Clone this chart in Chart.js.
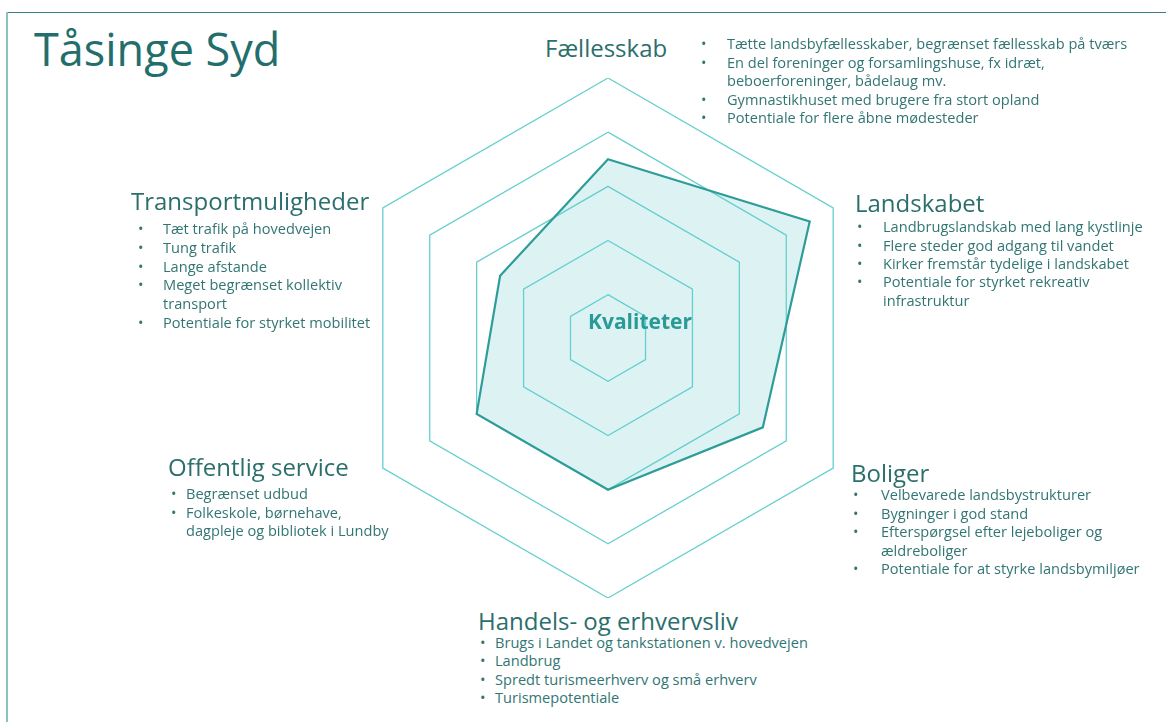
<!DOCTYPE html>
<html>
<head>
<meta charset="utf-8">
<script src="https://cdn.jsdelivr.net/npm/chart.js@4/dist/chart.umd.min.js"></script>
<style>
  html, body { margin: 0; padding: 0; background: #fff; }
  body { width: 1166px; height: 722px; position: relative; overflow: hidden; font-family: "Open Sans", "Noto Sans", sans-serif; color: #2f7371; }
  .frame-top { position: absolute; left: 7px; top: 12px; width: 1159px; height: 1px; background: #3b807e; }
  .frame-left { position: absolute; left: 6px; top: 12px; width: 2px; height: 710px; background: #86c3c1; }
  #title { position: absolute; left: 34px; top: 26px; font-size: 45px; line-height: 1; color: #236e6c; }
  #chartBox { position: absolute; left: 348px; top: 78px; width: 520px; height: 520px; }
  .heading { position: absolute; font-size: 24px; line-height: 1; color: #2b6f6d; white-space: nowrap; }
  .list { position: absolute; font-size: 14.6px; color: #327674; white-space: pre; }
  .list .dot { position: absolute; left: 0; }
  #centerLabel { position: absolute; left: 588px; top: 311px; font-size: 21px; font-weight: bold; line-height: 1; color: #2a9a97; }
</style>
</head>
<body>
<div class="frame-top"></div>
<div class="frame-left"></div>
<div id="title">Tåsinge Syd</div>
<div id="chartBox"><canvas id="chart" width="520" height="520"></canvas></div>
<div id="centerLabel">Kvaliteter</div>
<script>
const title = "Tåsinge Syd";
const centerLabel = "Kvaliteter";

const categories = ["Fællesskab", "Landskabet", "Boliger", "Handels- og erhvervsliv", "Offentlig service", "Transportmuligheder"];
const scores = [3.5, 4.5, 3.5, 3, 3, 2.5];
const ringTicks = [1, 2, 3, 4, 5];

const fællesskabPoints = [
    "Tætte landsbyfællesskaber, begrænset fællesskab på tværs",
    "En del foreninger og forsamlingshuse, fx idræt,\nbeboerforeninger, bådelaug mv.",
    "Gymnastikhuset med brugere fra stort opland",
    "Potentiale for flere åbne mødesteder"
];
const landskabetPoints = [
    "Landbrugslandskab med lang kystlinje",
    "Flere steder god adgang til vandet",
    "Kirker fremstår tydelige i landskabet",
    "Potentiale for styrket rekreativ\ninfrastruktur"
];
const boligerPoints = [
    "Velbevarede landsbystrukturer",
    "Bygninger i god stand",
    "Efterspørgsel efter lejeboliger og\nældreboliger",
    "Potentiale for at styrke landsbymiljøer"
];
const handelPoints = [
    "Brugs i Landet og tankstationen v. hovedvejen",
    "Landbrug",
    "Spredt turismeerhverv og små erhverv",
    "Turismepotentiale"
];
const offentligPoints = [
    "Begrænset udbud",
    "Folkeskole, børnehave,\ndagpleje og bibliotek i Lundby"
];
const transportPoints = [
    "Tæt trafik på hovedvejen",
    "Tung trafik",
    "Lange afstande",
    "Meget begrænset kollektiv\ntransport",
    "Potentiale for styrket mobilitet"
];
const pointLists = [fællesskabPoints, landskabetPoints, boligerPoints, handelPoints, offentligPoints, transportPoints];

// layout of the text blocks round the chart (heading x, heading cap middle, dot x, text x, first line middle, line step)
const blockLayout = [
    { hx: 545, hy: 49, dx: 701, tx: 727, ly: 45, step: 18.5 },
    { hx: 855, hy: 204, dx: 857, tx: 883, ly: 228, step: 18.4 },
    { hx: 851, hy: 474, dx: 853, tx: 881, ly: 496, step: 18.5 },
    { hx: 478, hy: 622, dx: 480, tx: 495, ly: 644, step: 18.3 },
    { hx: 168, hy: 468, dx: 171, tx: 186, ly: 495, step: 18.5 },
    { hx: 131, hy: 202, dx: 138, tx: 163, ly: 230, step: 18.7 }
];

document.getElementById("title").textContent = title;
document.getElementById("centerLabel").textContent = centerLabel;

categories.forEach(function (name, i) {
    const pos = blockLayout[i];
    const h = document.createElement("div");
    h.className = "heading";
    h.textContent = name;
    h.style.left = pos.hx + "px";
    h.style.top = (pos.hy - 12.7) + "px";
    document.body.appendChild(h);

    const list = document.createElement("div");
    list.className = "list";
    list.style.left = pos.dx + "px";
    list.style.top = (pos.ly - 10.8) + "px";
    list.style.lineHeight = pos.step + "px";
    let row = 0;
    pointLists[i].forEach(function (text) {
        const dot = document.createElement("span");
        dot.className = "dot";
        dot.textContent = "•";
        dot.style.top = (row * pos.step) + "px";
        list.appendChild(dot);
        const t = document.createElement("div");
        t.style.marginLeft = (pos.tx - pos.dx) + "px";
        t.textContent = text;
        list.appendChild(t);
        row += text.split("\n").length;
    });
    document.body.appendChild(list);
});

const ctx = document.getElementById("chart").getContext("2d");
const chart = new Chart(ctx, {
    type: "radar",
    data: {
        labels: categories,
        datasets: [{
            label: centerLabel,
            data: scores,
            borderColor: "#2e9d9a",
            borderWidth: 2.2,
            backgroundColor: "rgba(100, 200, 200, 0.22)",
            fill: true,
            pointRadius: 0,
            pointHoverRadius: 0
        }]
    },
    options: {
        responsive: false,
        animation: false,
        plugins: {
            legend: { display: false },
            tooltip: { enabled: false }
        },
        scales: {
            r: {
                min: 0.2,
                max: ringTicks[ringTicks.length - 1],
                ticks: { display: false, stepSize: 1 },
                grid: { circular: false, color: "#67d0cf", lineWidth: 1.3 },
                angleLines: { display: false },
                pointLabels: { display: false }
            }
        }
    }
});
</script>
</body>
</html>
